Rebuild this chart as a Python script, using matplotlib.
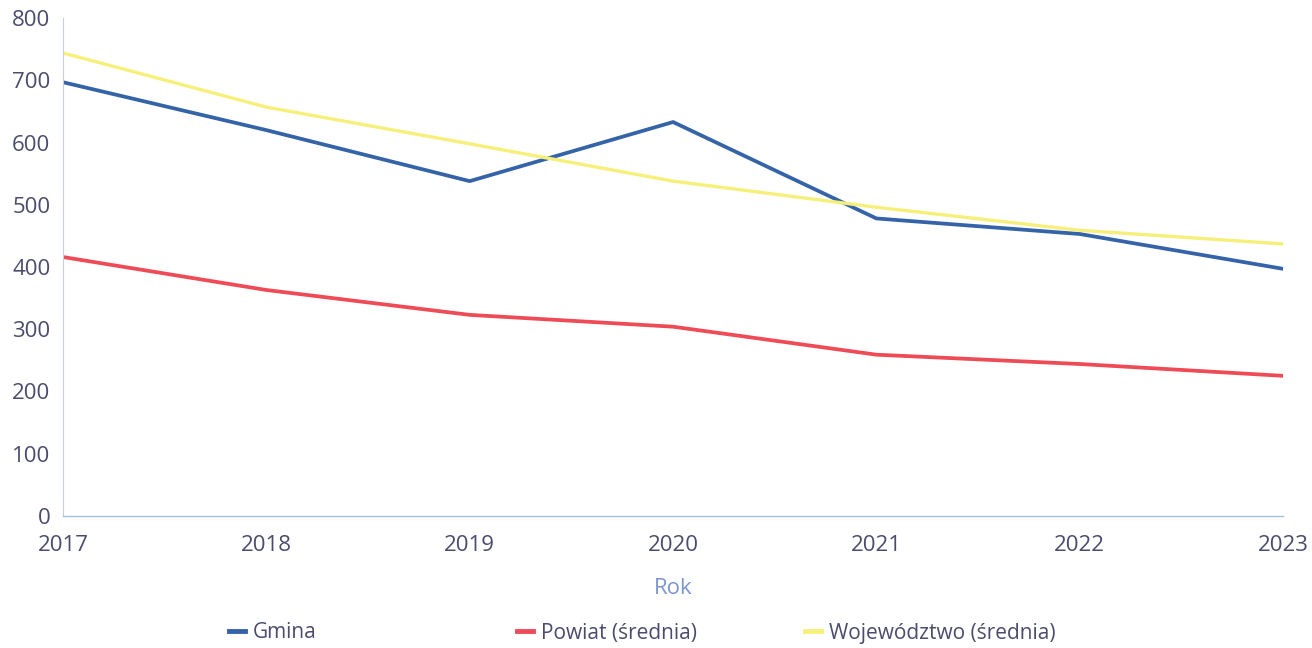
import matplotlib.pyplot as plt
from matplotlib.lines import Line2D

plt.rcParams['font.family'] = ['Open Sans', 'DejaVu Sans']

years = [2017, 2018, 2019, 2020, 2021, 2022, 2023]
gmina = [697, 620, 538, 633, 478, 453, 397]
powiat = [416, 363, 323, 304, 259, 244, 225]
wojewodztwo = [744, 657, 598, 538, 496, 459, 437]

series_names = ['Gmina', 'Powiat (średnia)', 'Województwo (średnia)']
series_colors = ['#3563a8', '#ee4b57', '#f6f07a']

fig = plt.figure(figsize=(13.12, 6.48), dpi=100)
ax = fig.add_axes([0.048, 0.204, 0.930, 0.768])

for vals, col, lw in zip([gmina, powiat, wojewodztwo], series_colors, [2.7, 2.7, 2.4]):
    ax.plot(years, vals, color=col, linewidth=lw, solid_capstyle='butt')

ax.set_xlim(2017, 2023)
ax.set_ylim(0, 800)
ax.set_yticks(range(0, 801, 100))
ax.set_xticks(years)

tick_color = '#4b4b6e'
ax.tick_params(axis='both', length=0, labelsize=16, labelcolor=tick_color)
ax.tick_params(axis='x', pad=14)
ax.tick_params(axis='y', pad=9)

for s in ['top', 'right']:
    ax.spines[s].set_visible(False)
ax.spines['left'].set_color('#c9cde3')
ax.spines['left'].set_linewidth(0.8)
ax.spines['bottom'].set_color('#9fc0ea')
ax.spines['bottom'].set_linewidth(1.0)

ax.set_xlabel('Rok', fontsize=16, color='#7d96cc', labelpad=16)

legend_x = [229, 517, 805]
for name, col, x in zip(series_names, series_colors, legend_x):
    h = Line2D([0], [0], color=col, linewidth=3.5)
    fig.legend([h], [name], loc='center left',
               bbox_to_anchor=(x / 1312, 1 - 633 / 648),
               frameon=False, fontsize=15, handlelength=0.75,
               handletextpad=0.4, borderaxespad=0, borderpad=0,
               labelcolor=tick_color)

fig.savefig('out.png', dpi=100)
